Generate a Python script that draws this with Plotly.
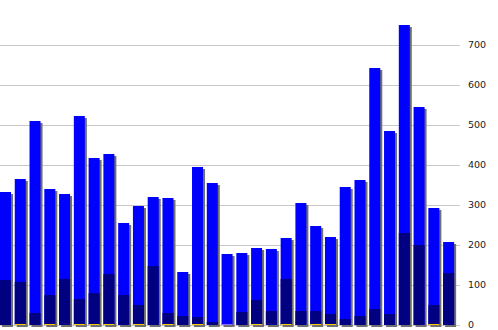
import plotly.graph_objects as go

categories = list(range(1, 32))
total_values = [332.5, 365, 510, 340, 327.5, 522.5, 417.5, 427.5, 255, 297.5,
                320, 317.5, 132.5, 395, 355, 177.5, 180, 192.5, 190, 217.5,
                305, 247.5, 220, 345, 362.5, 642.5, 485, 750, 545, 292.5, 207.5]
sub_values = [112.5, 107.5, 30, 75, 115, 65, 80, 127.5, 75, 50,
              147.5, 30, 22.5, 20, 7.5, 0, 32.5, 62.5, 35, 115,
              35, 35, 27.5, 15, 22.5, 40, 27.5, 230, 200, 50, 130]
minor_values = [0, 2.5, 0, 2.5, 0, 2.5, 2.5, 2.5, 0, 2.5,
                0, 2.5, 0, 2.5, 0, 0, 0, 2.5, 0, 2.5,
                0, 2.5, 2.5, 0, 0, 0, 0, 0, 0, 2.5, 0]
other_values = [0, 0, 0, 0, 0, 0, 0, 0, 0, 0,
                0, 0, 0, 0, 0, 2.5, 0, 0, 0, 0,
                0, 0, 0, 0, 0, 0, 0, 0, 0, 0, 0]
tick_vals = [0, 100, 200, 300, 400, 500, 600, 700]

x = list(range(len(categories)))
bw = 0.745
px_unit = 14.77  # approx pixels per category
shadow_dx = 2 / px_unit
shadow_dy = 5  # 2px in value units

fig = go.Figure()
fig.add_trace(go.Bar(x=x, y=total_values, base=[-shadow_dy] * len(x), width=bw,
                     offset=-bw / 2 + shadow_dx, marker=dict(color="#707070", line=dict(width=0)),
                     hoverinfo="skip"))
fig.add_trace(go.Bar(x=x, y=total_values, width=bw, offset=-bw / 2,
                     marker=dict(color="#0000ff", line=dict(width=0))))
fig.add_trace(go.Bar(x=x, y=sub_values, width=bw, offset=-bw / 2,
                     marker=dict(color="#000080", line=dict(width=0))))
fig.add_trace(go.Bar(x=x, y=minor_values, width=bw, offset=-bw / 2,
                     marker=dict(color="#ffcc00", line=dict(width=0))))
fig.add_trace(go.Bar(x=x, y=other_values, width=bw, offset=-bw / 2,
                     marker=dict(color="#9966ff", line=dict(width=0))))

fig.update_layout(
    width=498, height=330,
    margin=dict(l=0, r=38, t=0, b=0),
    barmode="overlay",
    showlegend=False,
    plot_bgcolor="white", paper_bgcolor="white",
    xaxis=dict(range=[-0.372, 30.77], visible=False),
    yaxis=dict(range=[-12.5, 812.5], side="right", tickvals=tick_vals,
               showgrid=True, gridcolor="#c8c8c8", gridwidth=1, zeroline=False,
               ticks="", ticklabelstandoff=7, ticklabeloverflow="allow",
               tickfont=dict(family="DejaVu Sans", size=9.5, color="#222222")),
)
fig.write_html("out.html")
